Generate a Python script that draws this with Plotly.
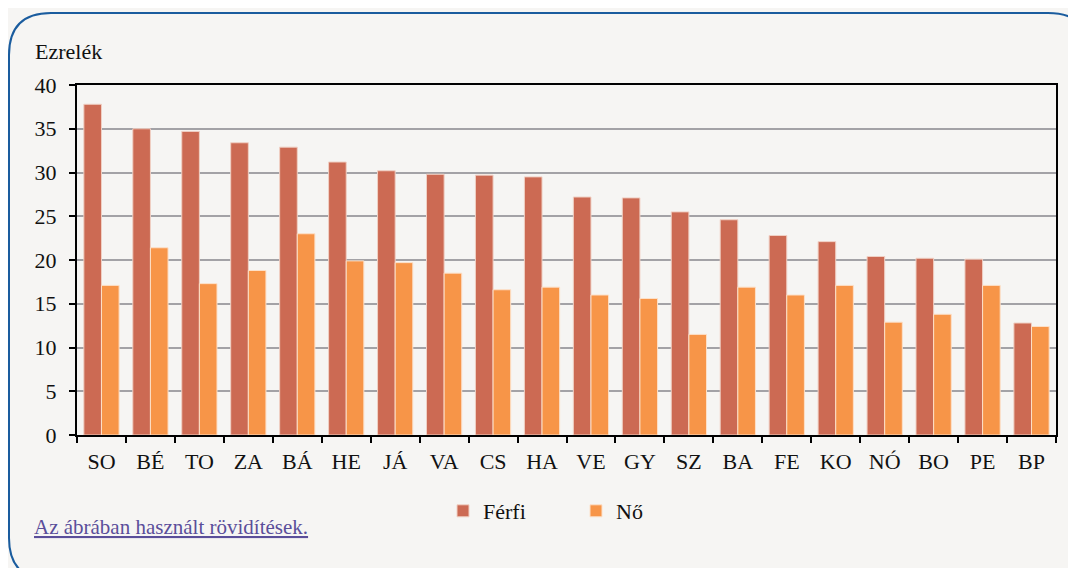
import plotly.graph_objects as go

categories = ["SO", "BÉ", "TO", "ZA", "BÁ", "HE", "JÁ", "VA", "CS", "HA",
              "VE", "GY", "SZ", "BA", "FE", "KO", "NÓ", "BO", "PE", "BP"]
ferfi = [37.8, 35.0, 34.7, 33.4, 32.9, 31.2, 30.2, 29.8, 29.7, 29.5,
         27.2, 27.1, 25.5, 24.6, 22.8, 22.1, 20.4, 20.2, 20.1, 12.8]
no = [17.1, 21.4, 17.3, 18.8, 23.0, 19.9, 19.7, 18.5, 16.6, 16.9,
      16.0, 15.6, 11.5, 16.9, 16.0, 17.1, 12.9, 13.8, 17.1, 12.4]
y_ticks = [0, 5, 10, 15, 20, 25, 30, 35, 40]

OFF = 8  # page body margin
W, H = 1076 - OFF, 568 - OFF
L, R, T, B = 77 - OFF, 20, 85 - OFF, 133
PW, PH = W - L - R, H - T - B
FONT = "Liberation Serif"

def px(x):  # screen x -> paper
    return (x - OFF - L) / PW

def py(y):  # screen y -> paper
    return (H - B - (y - OFF)) / PH

fig = go.Figure()
fig.add_trace(go.Bar(name="Férfi", x=categories, y=ferfi,
                     marker=dict(color="#cc6a53", line=dict(color="#f0d0c4", width=1))))
fig.add_trace(go.Bar(name="Nő", x=categories, y=no,
                     marker=dict(color="#f79548", line=dict(color="#fde0c8", width=1))))

# rounded outer border
x0, y0, x1, y1, r = 9, 13, 1090, 580, 42
path = (f"M {px(x0+r)},{py(y0)} L {px(x1-r)},{py(y0)} "
        f"Q {px(x1)},{py(y0)} {px(x1)},{py(y0+r)} "
        f"L {px(x1)},{py(y1-r)} Q {px(x1)},{py(y1)} {px(x1-r)},{py(y1)} "
        f"L {px(x0+r)},{py(y1)} Q {px(x0)},{py(y1)} {px(x0)},{py(y1-r)} "
        f"L {px(x0)},{py(y0+r)} Q {px(x0)},{py(y0)} {px(x0+r)},{py(y0)} Z")

fig.update_layout(
    width=W, height=H,
    margin=dict(l=L, r=R, t=T, b=B, autoexpand=False),
    paper_bgcolor="#f6f5f3", plot_bgcolor="#f6f5f3",
    barmode="group", bargap=0.28, bargroupgap=0.0,
    font=dict(family=FONT, size=22, color="#111111"),
    shapes=[dict(type="path", xref="paper", yref="paper", path=path,
                 line=dict(color="#1a5c9e", width=2), layer="below")],
    legend=dict(orientation="h", x=px(443), xanchor="left", y=py(511), yanchor="middle",
                font=dict(family=FONT, size=22), entrywidth=88, entrywidthmode="pixels",
                bgcolor="rgba(0,0,0,0)"),
    annotations=[
        dict(text="Ezrelék", xref="paper", yref="paper", x=px(33), y=py(52),
             xanchor="left", yanchor="middle", showarrow=False,
             font=dict(family=FONT, size=22, color="#111111")),
        dict(text="<u>Az ábrában használt rövidítések.</u>", xref="paper", yref="paper",
             x=px(32), y=py(527), xanchor="left", yanchor="middle", showarrow=False,
             font=dict(family=FONT, size=21, color="#5a4e9a")),
    ],
)
fig.update_yaxes(range=[0, 40], tickvals=y_ticks, showgrid=True, gridcolor="#a3a2a6",
                 gridwidth=1.5, showline=True, linecolor="#000000", linewidth=2,
                 mirror=True, ticks="outside", ticklen=6, tickcolor="#000000",
                 tickwidth=1.5, zeroline=False, ticklabelstandoff=8)
fig.update_xaxes(showline=True, linecolor="#000000", linewidth=2, mirror=True,
                 ticks="outside", ticklen=6, tickcolor="#000000", tickwidth=1.5,
                 tickson="boundaries", ticklabelstandoff=6)

fig.write_html("out.html")
